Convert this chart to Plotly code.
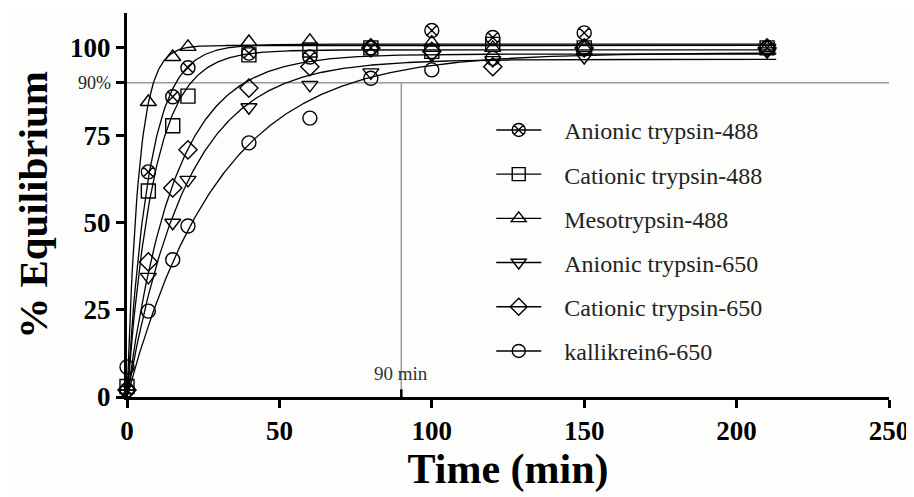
import numpy as np
import plotly.graph_objects as go

# ---- data ----
time_min = [0, 7, 15, 20, 40, 60, 80, 100, 120, 150, 210]

series_names = [
    "Anionic trypsin-488",
    "Cationic trypsin-488",
    "Mesotrypsin-488",
    "Anionic trypsin-650",
    "Cationic trypsin-650",
    "kallikrein6-650",
]
anionic_488 = [2, 64.5, 86, 94.3, 98.5, 97.4, 100, 105, 103, 104.3, 100]
cationic_488 = [3, 59, 77.7, 86.2, 98, 99.4, 100, 99, 101, 100, 100]
meso_488 = [3, 84.5, 97.4, 100.3, 101.7, 102, 100.5, 101.5, 100, 100, 100]
anionic_650 = [1, 34.4, 49.9, 62.2, 83, 89.4, 93, 98, 96.5, 97.4, 99]
cationic_650 = [2, 38.7, 59.9, 70.8, 88.5, 94.6, 100, 99, 94.6, 100, 100]
klk6_650 = [8.6, 24.6, 39.3, 49, 72.8, 79.9, 91.3, 93.7, 97, 100, 100]

series_values = [anionic_488, cationic_488, meso_488, anionic_650, cationic_650, klk6_650]
symbols = ["circle-x-open", "square-open", "triangle-up-open",
           "triangle-down-open", "diamond-open", "circle-open"]

x_ticks = [0, 50, 100, 150, 200, 250]
y_ticks = [0, 25, 50, 75, 90, 100]
y_ticktext = ["0", "25", "50", "75", "", "100"]
ref_level = 90
ref_time = 90

FONT = "Liberation Serif"
BG = "#fdfdfb"


def fit_one_phase(t, y):
    """Least-squares fit of Y = P*(1-exp(-k t)) (grid over k, P analytic)."""
    t = np.asarray(t, float)
    y = np.asarray(y, float)
    best = None
    for k in np.linspace(0.002, 0.8, 4000):
        f = 1 - np.exp(-k * t)
        P = float(f @ y) / float(f @ f)
        sse = float(((y - P * f) ** 2).sum())
        if best is None or sse < best[0]:
            best = (sse, k, P)
    return best[1], best[2]


fig = go.Figure()
t_curve = np.linspace(0, 213, 600)

for name, vals, sym in zip(series_names, series_values, symbols):
    k, P = fit_one_phase(time_min, vals)
    fig.add_trace(go.Scatter(
        x=t_curve, y=P * (1 - np.exp(-k * t_curve)), mode="lines",
        line=dict(color="black", width=1.3), showlegend=False, hoverinfo="skip"))
    fig.add_trace(go.Scatter(
        x=time_min, y=vals, mode="markers", showlegend=False, cliponaxis=False,
        marker=dict(symbol=sym, size=14, color="black",
                    line=dict(color="black", width=1.4))))

# legend entries (line + marker)
NB = "\u00a0\u00a0\u00a0"
for i, (name, sym) in enumerate(zip(series_names, symbols)):
    fig.add_trace(go.Scatter(
        x=[None], y=[None], mode="lines+markers", name=NB + name, legendgroup=f"g{i}",
        line=dict(color="black", width=1.4),
        marker=dict(symbol=sym, size=13, color="black",
                    line=dict(color="black", width=1.4))))

# 90% reference lines
fig.add_shape(type="line", xref="x", yref="y", x0=0, x1=250, y0=ref_level, y1=ref_level,
              line=dict(color="#9a9a9a", width=1.5), layer="below")
fig.add_shape(type="line", xref="x", yref="y", x0=ref_time, x1=ref_time, y0=0, y1=ref_level,
              line=dict(color="#9a9a9a", width=1.5), layer="below")
fig.add_shape(type="line", xref="x", yref="y", x0=ref_time, x1=ref_time, y0=0, y1=2.2,
              line=dict(color="black", width=2.5))

fig.add_annotation(x=ref_time, y=0, xref="x", yref="y", text="90 min", showarrow=False,
                   yshift=24, font=dict(family=FONT, size=19, color="#333"))
fig.add_annotation(x=0, y=ref_level, xref="paper", yref="y", text="90%", showarrow=False,
                   xanchor="right", xshift=-14, font=dict(family=FONT, size=18, color="#222"))

# page body has an 8px default margin, so the figure is sized to fit the window
fig.update_layout(
    width=906, height=489,
    margin=dict(l=119, r=25, t=5, b=100),
    paper_bgcolor=BG, plot_bgcolor=BG,
    font=dict(family=FONT, color="black"),
    legend=dict(x=0.478, y=0.753, xanchor="left", yanchor="top",
                bgcolor="rgba(0,0,0,0)", tracegroupgap=10, itemwidth=45,
                font=dict(family=FONT, size=24, color="#222"), traceorder="grouped"),
    xaxis=dict(range=[0, 250], tickvals=x_ticks, showgrid=False, zeroline=False,
               automargin=False,
               showline=True, linecolor="black", linewidth=3,
               ticks="outside", ticklen=8, tickwidth=3, tickcolor="black",
               tickfont=dict(family=FONT, size=27, color="black", weight="bold"),
               title=dict(text="<b>Time (min)</b>", font=dict(family=FONT, size=42), standoff=6)),
    yaxis=dict(range=[0, 110], tickvals=y_ticks, ticktext=y_ticktext, showgrid=False,
               automargin=False,
               zeroline=False, showline=True, linecolor="black", linewidth=3,
               ticks="outside", ticklen=8, tickwidth=3, tickcolor="black",
               tickfont=dict(family=FONT, size=27, color="black", weight="bold"),
               title=dict(text="<b>% Equilibrium</b>", font=dict(family=FONT, size=41), standoff=10)),
)

fig.write_html("out.html")
